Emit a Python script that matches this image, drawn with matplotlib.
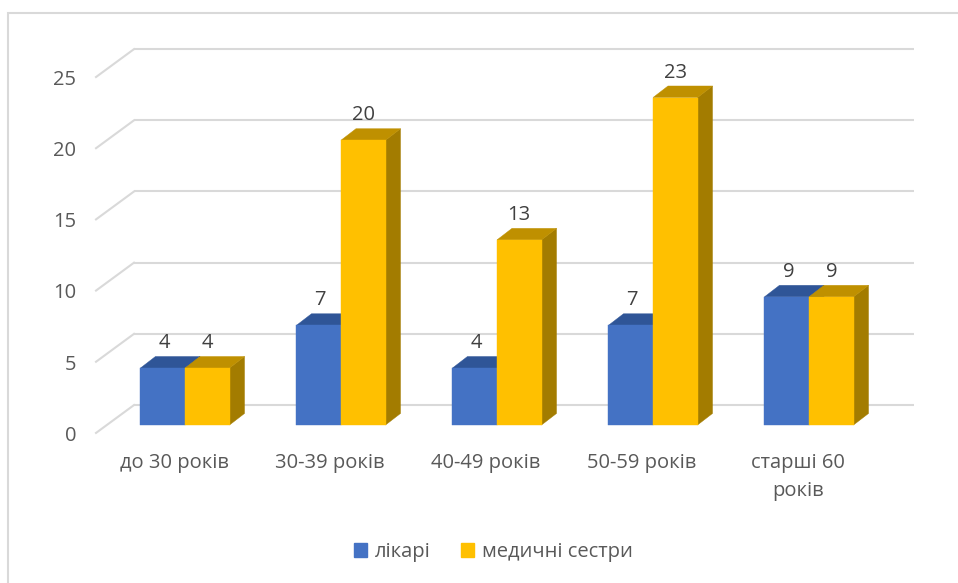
import matplotlib
matplotlib.use('Agg')
import matplotlib.pyplot as plt
from matplotlib.patches import Polygon, Patch, Rectangle

# Data
categories = ['до 30 років', '30-39 років', '40-49 років', '50-59 років', 'старші 60\nроків']
doctors = [4, 7, 4, 7, 9]
nurses = [4, 20, 13, 23, 9]
series_names = ['лікарі', 'медичні сестри']
y_ticks = [0, 5, 10, 15, 20, 25]

plt.rcParams['font.family'] = ['Open Sans', 'DejaVu Sans']

# colours: front, top, side
blue = ('#4472C4', '#2F5597', '#2A4D8C')
gold = ('#FFC000', '#BF9000', '#A37C00')
grid_color = '#D9D9D9'
text_color = '#595959'
fs = 14.5

# fake 3D offsets (category units, value units)
front_dx, front_dy = -0.0705, -0.56
back_dx, back_dy = 0.173, 1.40
bar_dx, bar_dy = 0.096, 0.81
bar_w = 0.2855

fig = plt.figure(figsize=(9.58, 5.83), dpi=100)
ax = fig.add_axes([0, 0, 1, 1])
ax.set_xlim(-1.186, 4.955)
ax.set_ylim(-11.10, 29.85)
ax.axis('off')

# chart frame
fig.patches.append(Rectangle((8 / 958, -0.1), 1.2, 0.1 + 1 - 13 / 583, transform=fig.transFigure,
                             fill=False, edgecolor=grid_color, lw=1.5))

# back wall gridlines and side diagonals
x_left, x_right = -0.5, len(categories) - 0.5
for t in y_ticks:
    ax.plot([x_left + back_dx, x_right + back_dx], [t + back_dy, t + back_dy],
            color=grid_color, lw=1.5, zorder=1, solid_capstyle='butt')
    ax.plot([x_left + front_dx, x_left + back_dx], [t + front_dy, t + back_dy],
            color=grid_color, lw=1.5, zorder=1)
    ax.text(x_left + front_dx - 0.128, t + front_dy - 0.2, str(t), ha='right', va='center',
            fontsize=fs, color=text_color)


def draw_bar(x0, v, cols, z):
    x1 = x0 + bar_w
    front = [(x0, 0), (x1, 0), (x1, v), (x0, v)]
    top = [(x0, v), (x1, v), (x1 + bar_dx, v + bar_dy), (x0 + bar_dx, v + bar_dy)]
    side = [(x1, 0), (x1 + bar_dx, bar_dy), (x1 + bar_dx, v + bar_dy), (x1, v)]
    for pts, c in zip([side, top, front], [cols[2], cols[1], cols[0]]):
        ax.add_patch(Polygon(pts, closed=True, facecolor=c, edgecolor=c, lw=0.3, zorder=z))


for i, (d, n) in enumerate(zip(doctors, nurses)):
    draw_bar(i - bar_w, d, blue, 2 + i * 2)
    draw_bar(i, n, gold, 3 + i * 2)
    ax.text(i - bar_w / 2 + 0.01, d + 1.75, str(d), ha='center', va='center',
            fontsize=fs, color='#404040', zorder=20)
    ax.text(i + bar_w / 2, n + 1.75, str(n), ha='center', va='center',
            fontsize=fs, color='#404040', zorder=20)
    ax.text(i + front_dx, -1.95, categories[i], ha='center', va='top',
            fontsize=fs, color=text_color, linespacing=1.55)

handles = [Patch(facecolor=blue[0], edgecolor=blue[0]), Patch(facecolor=gold[0], edgecolor=gold[0])]
fig.legend(handles, series_names, loc='center', bbox_to_anchor=(0.515, 0.053), ncol=2,
           frameon=False, fontsize=fs, labelcolor=text_color, handlelength=0.65,
           handleheight=0.65, handletextpad=0.4, columnspacing=1.5)

fig.savefig('out.png', dpi=100)
